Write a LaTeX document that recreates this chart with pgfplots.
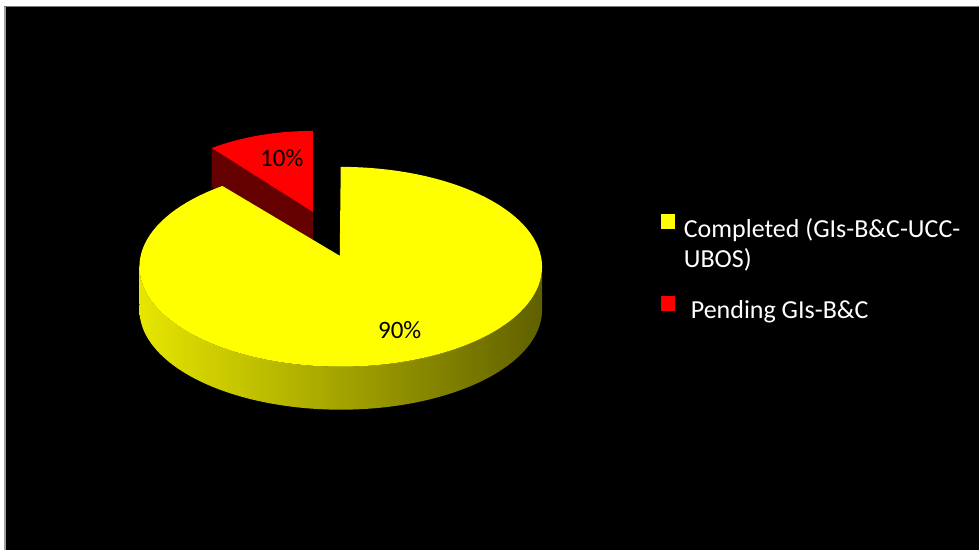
\documentclass[border=0pt]{standalone}
\usepackage{pgfplots}
\pgfplotsset{compat=1.18}
\usepackage{pgfplotstable}
\usepackage{fontspec}
\setmainfont{Carlito}

\definecolor{pieY}{RGB}{255,255,0}
\definecolor{pieR}{RGB}{255,0,0}
\definecolor{pieRdark}{RGB}{100,0,0}
\definecolor{sideL}{RGB}{230,230,0}
\definecolor{sideR}{RGB}{96,96,0}

\pgfplotstableread{
label value
Completed 90
Pending 10
}\piedata

\pgfplotsset{
  sqY/.style={legend image code/.code={\fill[pieY] (0pt,1pt) rectangle (14pt,15pt);}},
  sqR/.style={legend image code/.code={\fill[pieR] (0pt,-1pt) rectangle (14pt,13pt);}},
}

\begin{document}
\begin{tikzpicture}
\pgfplotstablegetelem{0}{value}\of\piedata \edef\vA{\pgfplotsretval}
\pgfplotstablegetelem{1}{value}\of\piedata \edef\vB{\pgfplotsretval}
\pgfmathsetmacro\fracA{\vA/(\vA+\vB)}
\pgfmathsetmacro\angA{360*\fracA}
% yellow slice geometry (pixel units, y downwards)
\def\cx{341}\def\cy{267}\def\rx{201.5}\def\ry{100}\def\h{43}
\def\apx{340}\def\apy{256}
% red (exploded) slice geometry
\def\rcx{313}\def\rcy{221}\def\rrx{172}\def\rry{90}\def\rh{39}
\def\rax{313}\def\ray{212}
\pgfmathsetmacro\rlx{\rcx+\rrx*sin(\angA)}
\pgfmathsetmacro\rly{\rcy-\rry*cos(\angA)}
\pgfmathsetmacro\rlyb{\rly+\rh}
\pgfmathsetmacro\rayb{\ray+\rh}
\fill[white] (0,0) rectangle (980pt,550pt);
\fill[black] (5pt,0) rectangle (980pt,543.5pt);
\draw[color={rgb,255:red,160;green,160;blue,160}, line width=2pt] (5pt,0) -- (5pt,543.5pt);
\draw[color={rgb,255:red,120;green,120;blue,120}, line width=1.5pt] (4pt,543.5pt) -- (980pt,543.5pt);
\begin{axis}[
  at={(0,0)}, anchor=south west,
  width=980pt, height=550pt, scale only axis,
  xmin=0, xmax=980, ymin=0, ymax=550, y dir=reverse,
  hide axis, clip=false,
  legend style={at={(axis cs:661,214)}, anchor=north west, draw=none, fill=none,
    text=white, font=\fontsize{26}{31}\selectfont,
    cells={anchor=west, inner sep=0pt, text height=19pt, text depth=7pt},
    row sep=5pt, column sep=7pt, inner sep=0pt, outer sep=0pt},
]
% red slice: radial cut face
\addplot[forget plot, fill=pieRdark, draw=none] coordinates
  {(\rax,\ray) (\rlx,\rly) (\rlx,\rlyb) (\rax,\rayb)} -- cycle;
% red slice: top face
\addplot[forget plot, fill=pieR, draw=none, domain=\angA:360, samples=40, variable=\t]
  ({\rcx+\rrx*sin(\t)}, {\rcy-\rry*cos(\t)}) -- (axis cs:\rax,\ray) -- cycle;
% yellow slice: outer side
\addplot[forget plot, draw=none, left color=sideL, right color=sideR,
  domain=90:450, samples=181, variable=\t]
  ({\cx+\rx*sin((\t<=270)*\t+(\t>270)*(540-\t))},
   {\cy-\ry*cos((\t<=270)*\t+(\t>270)*(540-\t))+(\t>270)*\h}) -- cycle;
% yellow slice: top face
\addplot[forget plot, fill=pieY, draw=none, domain=0:\angA, samples=120, variable=\t]
  ({\cx+\rx*sin(\t)}, {\cy-\ry*cos(\t)}) -- (axis cs:\apx,\apy) -- cycle;
\node[font=\fontsize{25}{30}\selectfont, text=black] at (axis cs:282,158) {10\%};
\node[font=\fontsize{25}{30}\selectfont, text=black] at (axis cs:400,330) {90\%};
\addlegendimage{sqY}
\addlegendentry{Completed (GIs-B\&C-UCC-}
\addlegendimage{empty legend}
\addlegendentry[text depth=22pt]{UBOS)}
\addlegendimage{sqR}
\addlegendentry{\hspace{7pt}Pending GIs-B\&C}
\end{axis}
\end{tikzpicture}
\end{document}
